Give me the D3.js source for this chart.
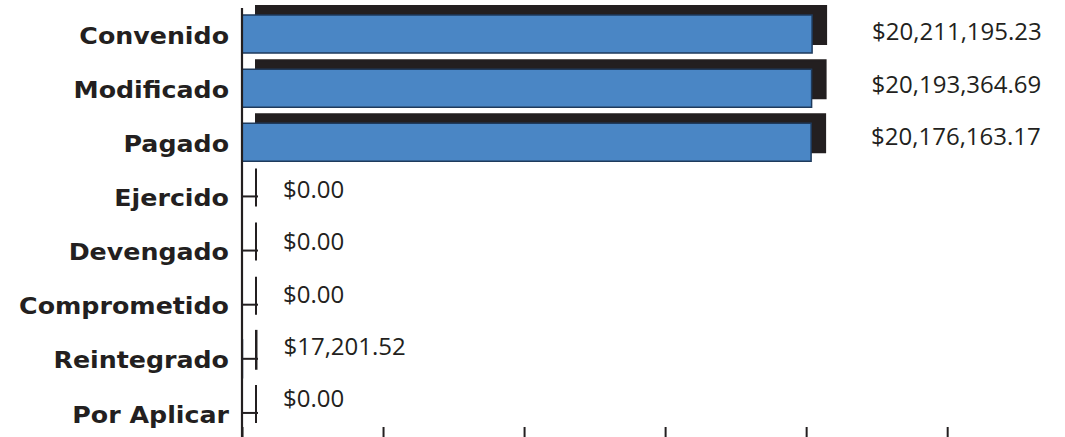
<!DOCTYPE html>
<html><head><meta charset="utf-8">
<script src="https://cdn.jsdelivr.net/npm/d3@7"></script>
<style>html,body{margin:0;padding:0;background:#fff;}svg{display:block;}</style>
</head><body>
<svg id="chart" width="1065" height="437"></svg>
<script>
const categories = ["Convenido","Modificado","Pagado","Ejercido","Devengado","Comprometido","Reintegrado","Por Aplicar"];
const values = [20211195.23, 20193364.69, 20176163.17, 0, 0, 0, 17201.52, 0];
const xTicks = [0, 5000000, 10000000, 15000000, 20000000, 25000000];

const data = categories.map((c, i) => ({category: c, value: values[i]}));
const svg = d3.select("#chart");
const dark = "#231f20";
const blue = "#4a86c5";

const x = d3.scaleLinear().domain([0, 25100000]).range([242, 950]);
const y = d3.scaleBand().domain(categories).range([7, 440]).paddingInner(0.3).paddingOuter(0.15);
const labelY = d3.scalePoint().domain(categories).range([34, 401]);
const fmt = d3.format("$,.2f");

const rectPath = (x0, y0, w, h) => `M${x0},${y0}H${x0 + w}V${y0 + h}H${x0}Z`;

// y-axis inner ticks
const yAxis = svg.append("g").attr("transform", `translate(${x(0)},0)`)
  .call(d3.axisRight(y).tickSize(16).tickFormat(""));
yAxis.select(".domain").remove();
yAxis.selectAll(".tick line").attr("stroke", dark).attr("stroke-width", 2);

// x-axis ticks at bottom
const xAxis = svg.append("g").attr("transform", "translate(0,439)")
  .call(d3.axisTop(x).tickValues(xTicks).tickSize(12).tickSizeOuter(0).tickFormat(""));
xAxis.select(".domain").attr("stroke", dark).attr("stroke-width", 2);
xAxis.selectAll(".tick line").attr("stroke", dark).attr("stroke-width", 2);

// shadows
svg.append("g").selectAll("path").data(data).join("path")
  .attr("d", d => rectPath(x(0) + 14, y(d.category) - 9, x(d.value) - x(0), y.bandwidth()))
  .attr("fill", dark).attr("stroke", dark).attr("stroke-width", 2);

// bars
svg.append("g").selectAll("path").data(data).join("path")
  .attr("d", d => rectPath(x(0), y(d.category), x(d.value) - x(0), y.bandwidth()))
  .attr("fill", blue).attr("stroke", "#1e3a5c").attr("stroke-width", 1.5);

// y-axis line
svg.append("line").attr("x1", x(0)).attr("x2", x(0)).attr("y1", 8).attr("y2", 437)
  .attr("stroke", dark).attr("stroke-width", 2.2);

// category labels
svg.append("g").attr("transform", "translate(229,0) scale(1.1,1)")
  .selectAll("text").data(data).join("text")
  .attr("x", 0)
  .attr("y", d => y(d.category) + y.bandwidth() / 2 + 3)
  .attr("dominant-baseline", "middle")
  .attr("text-anchor", "end")
  .attr("font-family", "'DejaVu Sans', sans-serif")
  .attr("font-weight", 700)
  .attr("font-size", 23)
  .attr("fill", dark)
  .text(d => d.category);

// value labels
svg.append("g").selectAll("text").data(data).join("text")
  .attr("x", d => x(d.value) + (d.value > 1000000 ? 60 : 41))
  .attr("y", d => labelY(d.category))
  .attr("dominant-baseline", "middle")
  .attr("font-family", "'Open Sans', sans-serif")
  .attr("font-size", 24)
  .attr("fill", dark)
  .text(d => fmt(d.value));
</script>
</body></html>
